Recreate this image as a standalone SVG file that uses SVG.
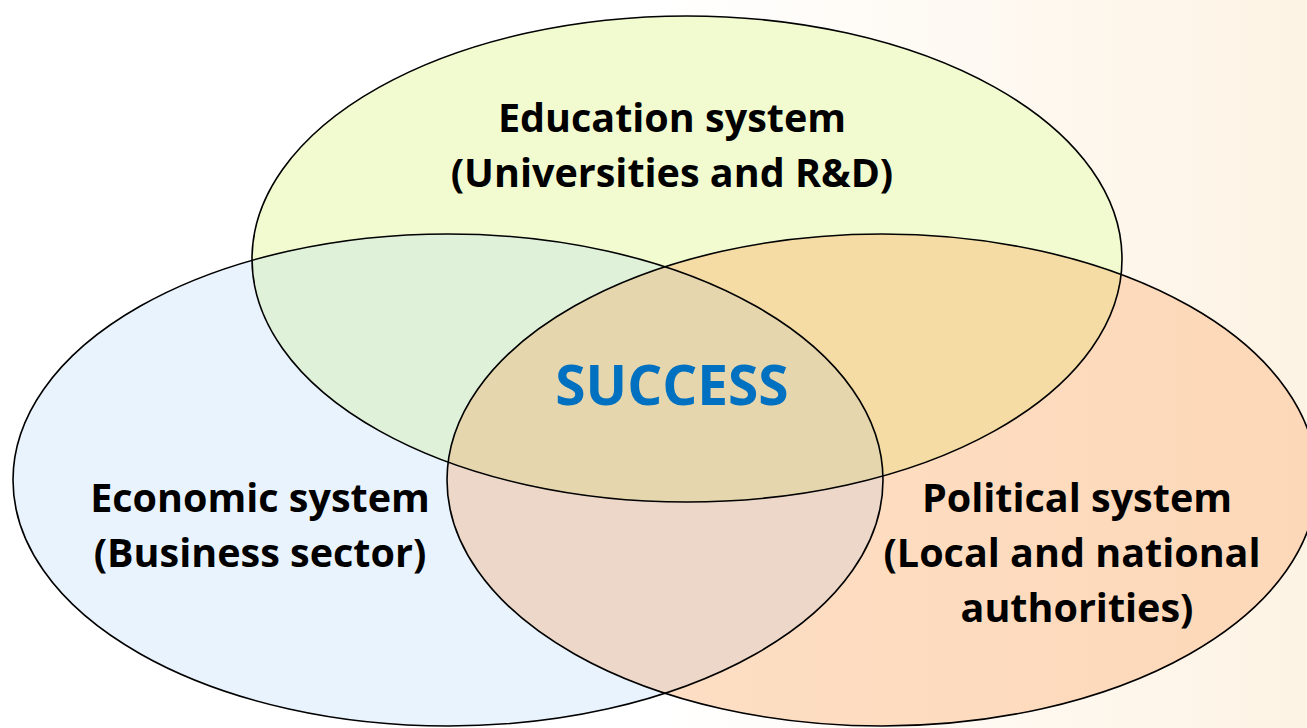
<svg xmlns="http://www.w3.org/2000/svg" width="1307" height="728" viewBox="0 0 1307 728">
  <style>
    .lbl { font-family: "Open Sans", "Liberation Sans", sans-serif; font-weight: bold; font-size: 39.5px; fill: #000; text-anchor: middle; }
    .core { font-family: "Open Sans", "Liberation Sans", sans-serif; font-weight: bold; font-size: 55px; fill: #0070c0; text-anchor: middle; }
    .outline { fill: none; stroke: #000; stroke-width: 1.6; }
  </style>
  <defs>
    <linearGradient id="bg" x1="0" y1="0" x2="1" y2="0">
      <stop offset="0" stop-color="#ffffff"/>
      <stop offset="0.5" stop-color="#ffffff"/>
      <stop offset="1" stop-color="#fdf3e4"/>
    </linearGradient>
    <linearGradient id="gRight" x1="0" y1="0" x2="1" y2="0">
      <stop offset="0" stop-color="#fde0c8"/>
      <stop offset="1" stop-color="#fdd8b8"/>
    </linearGradient>
    <clipPath id="clipTop"><ellipse cx="687" cy="259" rx="435" ry="243"/></clipPath>
    <clipPath id="clipLeft"><ellipse cx="448" cy="480" rx="435" ry="246"/></clipPath>
  </defs>

  <rect x="0" y="0" width="1307" height="728" fill="url(#bg)"/>

  <g id="node-education">
    <ellipse cx="687" cy="259" rx="435" ry="243" fill="#f2fbd0"/>
  </g>
  <g id="node-economic">
    <ellipse cx="448" cy="480" rx="435" ry="246" fill="#e9f3fd"/>
    <ellipse cx="448" cy="480" rx="435" ry="246" fill="#e0f1da" clip-path="url(#clipTop)"/>
  </g>
  <g id="node-political">
    <ellipse cx="882" cy="480" rx="435" ry="246" fill="url(#gRight)"/>
    <ellipse cx="882" cy="480" rx="435" ry="246" fill="#f4dca4" clip-path="url(#clipTop)"/>
    <ellipse cx="882" cy="480" rx="435" ry="246" fill="#ecd7c8" clip-path="url(#clipLeft)"/>
    <g clip-path="url(#clipTop)">
      <ellipse cx="882" cy="480" rx="435" ry="246" fill="#e5d6ad" clip-path="url(#clipLeft)"/>
    </g>
  </g>

  <g id="outlines">
    <ellipse class="outline" cx="687" cy="259" rx="435" ry="243"/>
    <ellipse class="outline" cx="448" cy="480" rx="435" ry="246"/>
    <ellipse class="outline" cx="882" cy="480" rx="435" ry="246"/>
  </g>

  <g id="labels">
    <text class="lbl" x="672" y="132">Education system</text>
    <text class="lbl" x="672" y="187">(Universities and R&amp;D)</text>
    <text class="core" x="672" y="405">SUCCESS</text>
    <text class="lbl" x="260" y="512">Economic system</text>
    <text class="lbl" x="260" y="567">(Business sector)</text>
    <text class="lbl" x="1077" y="512">Political system</text>
    <text class="lbl" x="1072" y="567">(Local and national</text>
    <text class="lbl" x="1077" y="622">authorities)</text>
  </g>
</svg>
